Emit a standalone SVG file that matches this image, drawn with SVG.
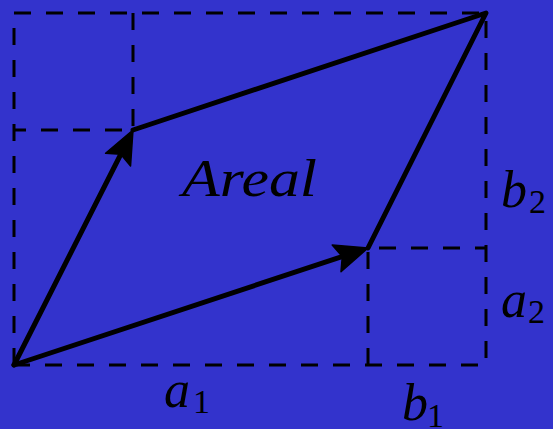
<svg xmlns="http://www.w3.org/2000/svg" width="553" height="429" viewBox="0 0 553 429">
<defs>
<style>
.dash{fill:none;stroke:#000;stroke-width:3;stroke-dasharray:17 15}
.edge{fill:none;stroke:#000;stroke-width:5;stroke-linecap:round;stroke-linejoin:round}
.v{font-family:"Liberation Serif","Times New Roman",serif;font-style:italic;font-size:52px;fill:#000}
.s{font-family:"Liberation Serif","Times New Roman",serif;font-size:34px;fill:#000}
</style>
<marker id="ah" markerUnits="userSpaceOnUse" markerWidth="60" markerHeight="60" refX="0" refY="0" orient="auto" overflow="visible" viewBox="-30 -30 60 60">
<path d="M11,0 L-22,-14 L-16,0 L-22,14 Z" fill="#000" stroke="#000" stroke-width="1.5" stroke-linejoin="round"/>
</marker>
</defs>
<rect x="0" y="0" width="553" height="429" fill="#3333cc"/>
<g id="grid">
<path class="dash" d="M14,365 L14,13 L486,13 L486,365 L14,365"/>
<path class="dash" d="M133,13 L133,130 L14,130"/>
<path class="dash" d="M368,365 L368,248 L486,248"/>
</g>
<g id="connectors">
<path class="edge" d="M14,365 L128,140" marker-end="url(#ah)"/>
<path class="edge" d="M14,365 L357.5,251.5" marker-end="url(#ah)"/>
<path class="edge" d="M133,130 L486,13 L368,248"/>
</g>
<g id="labels">
<text class="v" x="182" y="196" font-size="55" textLength="135" lengthAdjust="spacingAndGlyphs">Areal</text>
<g id="b2"><text class="v" x="501" y="207">b</text><text class="s" x="529" y="213">2</text></g>
<g id="a2"><text class="v" x="501" y="317">a</text><text class="s" x="528" y="323">2</text></g>
<g id="a1"><text class="v" x="164" y="407">a</text><text class="s" x="193" y="413">1</text></g>
<g id="b1"><text class="v" x="402" y="420">b</text><text class="s" x="427" y="427">1</text></g>
</g>
</svg>
